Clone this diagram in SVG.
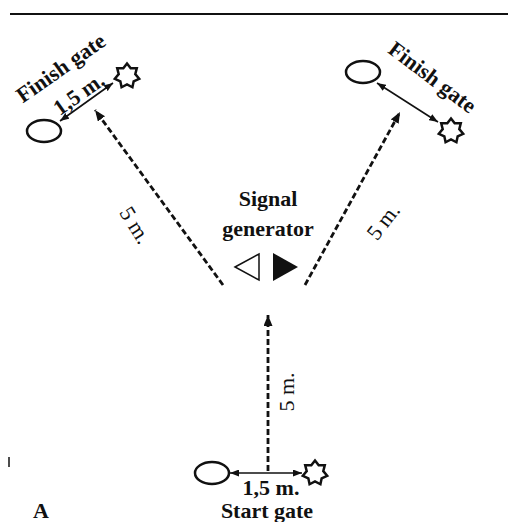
<svg xmlns="http://www.w3.org/2000/svg" width="508" height="522" viewBox="0 0 508 522">
<defs>
<style>
text{font-family:"Liberation Serif","Times New Roman",serif;fill:#111}
.b{font-weight:bold;font-size:22px}
.r{font-size:22px}
.gate{fill:#fff;stroke:#111;stroke-width:2.5}
.solid{stroke:#111;stroke-width:1.6;fill:none}
.dash{stroke:#111;stroke-width:2.8;stroke-dasharray:6 3;fill:none}
</style>
<marker id="ah" markerWidth="9" markerHeight="7" refX="9" refY="3.5" orient="auto-start-reverse" markerUnits="userSpaceOnUse"><path d="M0,0 L9,3.5 L0,7 z" fill="#111"/></marker>
<marker id="ahd" markerWidth="11" markerHeight="9" refX="11" refY="4.5" orient="auto" markerUnits="userSpaceOnUse"><path d="M0,0 L11,4.5 L0,9 z" fill="#111"/></marker>
<path id="star" class="gate" d="M0,-12.5 L3.69,-7.66 L9.77,-7.79 L8.29,-1.89 L12.19,2.78 L6.65,5.3 L5.42,11.26 L0,8.5 L-5.42,11.26 L-6.65,5.3 L-12.19,2.78 L-8.29,-1.89 L-9.77,-7.79 L-3.69,-7.66 Z"/>
</defs>
<rect width="508" height="522" fill="#fff"/>
<line x1="10" y1="14" x2="508" y2="14" stroke="#111" stroke-width="2"/>
<g id="connectors">
<line class="dash" x1="223" y1="285" x2="95" y2="110" marker-end="url(#ahd)"/>
<line class="dash" x1="305" y1="285" x2="400" y2="112" marker-end="url(#ahd)"/>
<line class="dash" x1="268" y1="471" x2="268" y2="315" marker-end="url(#ahd)"/>
<line class="solid" x1="60" y1="121" x2="113" y2="83" marker-start="url(#ah)" marker-end="url(#ah)"/>
<line class="solid" x1="377" y1="83" x2="438" y2="122" marker-start="url(#ah)" marker-end="url(#ah)"/>
<line class="solid" x1="230" y1="473" x2="302" y2="473" marker-start="url(#ah)" marker-end="url(#ah)"/>
</g>
<g id="finish-left">
<ellipse class="gate" cx="44" cy="131" rx="17" ry="11"/>
<use href="#star" x="127" y="76"/>
<text class="b" transform="translate(65,74) rotate(-35)" text-anchor="middle">Finish gate</text>
<text class="b" transform="translate(83,100) rotate(-35)" text-anchor="middle">1,5 m.</text>
</g>
<g id="finish-right">
<ellipse class="gate" cx="363" cy="72" rx="17" ry="11"/>
<use href="#star" x="451" y="131"/>
<text class="b" transform="translate(428,83) rotate(37)" text-anchor="middle">Finish gate</text>
</g>
<g id="signal-generator">
<text class="b" x="268" y="206" text-anchor="middle">Signal</text>
<text class="b" x="268" y="236" text-anchor="middle">generator</text>
<path d="M235,267 L259,254 L259,280 Z" fill="#fff" stroke="#111" stroke-width="1.5"/>
<path d="M273,253 L298,267 L273,281 Z" fill="#111"/>
</g>
<g id="labels">
<text class="r" transform="translate(129,229) rotate(58)" text-anchor="middle">5 m.</text>
<text class="r" transform="translate(389,226) rotate(-52)" text-anchor="middle">5 m.</text>
<text class="r" transform="translate(294,392) rotate(-90)" text-anchor="middle">5 m.</text>
</g>
<g id="start-gate">
<ellipse class="gate" cx="212" cy="473" rx="17" ry="11"/>
<use href="#star" x="315" y="473"/>
<text class="b" x="271" y="495" text-anchor="middle" font-size="21">1,5 m.</text>
<text class="b" x="267" y="518" text-anchor="middle" font-size="21">Start gate</text>
</g>
<text class="b" x="33" y="518" font-size="21">A</text>
<line x1="9" y1="457" x2="9" y2="467" stroke="#111" stroke-width="1.5"/>
</svg>
